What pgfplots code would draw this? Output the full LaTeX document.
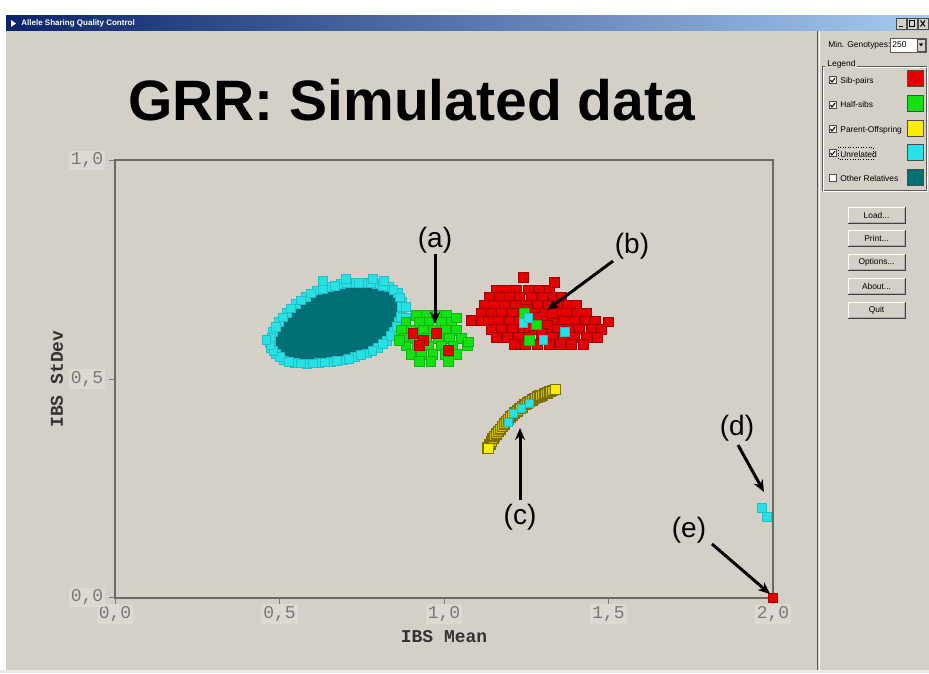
\documentclass[border=0pt]{standalone}
\usepackage{fontspec}
\setmainfont{Liberation Sans}
\setmonofont{Liberation Mono}
\usepackage{pgfplots}
\pgfplotsset{compat=1.18}
\usetikzlibrary{arrows.meta}

\definecolor{winbg}{RGB}{212,208,200}
\definecolor{sibred}{RGB}{228,0,0}
\definecolor{halfgreen}{RGB}{20,225,20}
\definecolor{poyellow}{RGB}{250,238,0}
\definecolor{pobody}{RGB}{205,188,0}
\definecolor{poolive}{RGB}{125,110,0}
\definecolor{unrcyan}{RGB}{40,225,230}
\definecolor{othteal}{RGB}{0,112,118}
\definecolor{titledark}{RGB}{10,36,106}
\definecolor{titlelight}{RGB}{166,202,240}
\definecolor{framegray}{RGB}{105,105,105}
\definecolor{ticklab}{RGB}{120,120,120}
\definecolor{labbox}{RGB}{220,217,211}

\newcommand{\uifont}{\fontsize{4.2}{5}\selectfont}
% a raised push button, top edge at screen row #1
\newcommand{\uibutton}[2]{%
  \fill[black!75] (848,#1) rectangle (906,#1+17);
  \fill[white] (848,#1) rectangle (905,#1+16);
  \fill[gray!65] (849,#1+1) rectangle (905,#1+16);
  \fill[winbg] (849,#1+1) rectangle (904,#1+15);
  \node[font=\uifont] at (876.5,#1+8.5) {#2};}

\begin{document}
\begin{tikzpicture}
% ---------- window chrome (1 unit = 1 screen pixel, y downwards) ----------
\begin{scope}[x=0.5pt,y=-0.5pt]
  \path[use as bounding box] (0,0) rectangle (929,673);
  \fill[white] (0,0) rectangle (929,673);
  \fill[winbg] (6,15) rectangle (929,670);
  \fill[winbg!45!white] (0,670) rectangle (929,673);
  % title bar
  \shade[left color=titledark, right color=titlelight] (6,16) rectangle (929,31);
  \fill[white] (11,20) -- (16,23.5) -- (11,27) -- cycle;
  \node[anchor=west, text=white, font=\bfseries\fontsize{4}{5}\selectfont, inner sep=0]
    at (21,23.5) {Allele Sharing Quality Control};
  \foreach \bx in {896,907,918} {
    \filldraw[fill=winbg, draw=gray!60!black, line width=0.3pt] (\bx,18) rectangle +(10,11);
  }
  \draw[line width=0.6pt] (899,26.5) -- (903,26.5);
  \draw[line width=0.4pt] (909.5,20.5) rectangle (914.5,26.5);
  \draw[line width=0.5pt] (920.5,20.5) -- (925,26.5) (925,20.5) -- (920.5,26.5);
  % side panel separator
  \draw[gray!65!black, line width=0.5pt] (817.5,31) -- (817.5,670);
  \draw[white, line width=0.5pt] (819,31) -- (819,670);
  % minimum genotypes box
  \node[anchor=west, font=\uifont, inner sep=0] at (828,45) {Min. Genotypes:};
  \filldraw[fill=white, draw=gray!70!black, line width=0.4pt] (890,38) rectangle (926,52);
  \node[anchor=west, font=\uifont, inner sep=0] at (892,45) {250};
  \filldraw[fill=winbg, draw=gray!60!black, line width=0.3pt] (917,39) rectangle (925,51);
  \fill[black] (919,43.5) -- (923,43.5) -- (921,46.5) -- cycle;
  % legend group box
  \draw[gray!70!black, line width=0.4pt] (822,66) rectangle (926,190);
  \draw[white, line width=0.4pt] (823,67) rectangle (927,191);
  \node[anchor=west, fill=winbg, font=\uifont, inner sep=1pt] at (825,64) {Legend};
  \foreach \cy in {80,105,129,153} {
    \filldraw[fill=white, draw=gray!60!black, line width=0.4pt] (829,\cy-3.5) rectangle (836,\cy+3.5);
    \draw[line width=0.5pt] (830.5,\cy) -- (832,\cy+2) -- (835,\cy-2);
  }
  \filldraw[fill=white, draw=gray!60!black, line width=0.4pt] (829,174.5) rectangle (836,181.5);
  \draw[densely dotted, line width=0.3pt] (838.5,147.5) rectangle (873,159.5);
  % buttons
  \uibutton{207}{Load...}
  \uibutton{230}{Print...}
  \uibutton{254}{Options...}
  \uibutton{278}{About...}
  \uibutton{302}{Quit}
  % chart title and axis titles
  \node[anchor=base, font=\bfseries\fontsize{28.5}{30}\selectfont, inner sep=0]
    at (411.5,121) {GRR: Simulated data};
  \node[font=\ttfamily\bfseries\fontsize{9}{9}\selectfont, text=black!80] at (444,637) {IBS Mean};
  \node[rotate=90, font=\ttfamily\bfseries\fontsize{9}{9}\selectfont, text=black!80] at (57,379) {IBS StDev};
\end{scope}

% ---------- scatter plot ----------
\begin{axis}[
  at={(57.5pt,-298.75pt)}, anchor=south west,
  scale only axis, width=329pt, height=218.5pt,
  xmin=0, xmax=2, ymin=0, ymax=1,
  clip=false,
  axis line style={draw=framegray, line width=1pt},
  xtick={0,0.5,1,1.5,2}, ytick={0,0.5,1},
  xtick pos=left, ytick pos=left,
  tick align=outside, major tick length=3pt,
  tick style={draw=ticklab, line width=0.5pt},
  xticklabel style={/pgf/number format/.cd, use comma, fixed, fixed zerofill, precision=1,
    assume math mode=true, /tikz/.cd,
    font=\ttfamily\fontsize{9}{9}\selectfont, text=ticklab, fill=labbox, inner sep=1pt,
    anchor=center, yshift=-5.25pt},
  yticklabel style={/pgf/number format/.cd, use comma, fixed, fixed zerofill, precision=1,
    assume math mode=true, /tikz/.cd,
    font=\ttfamily\fontsize{9}{9}\selectfont, text=ticklab, fill=labbox, inner sep=1pt,
    anchor=center, xshift=-11pt},
  legend plot pos=right,
  legend cell align=left,
  legend image code/.code={\draw[#1] (0pt,-2.5pt) rectangle (8pt,5.5pt);},
  legend style={at={(axis description cs:1.1018,1.2071)}, anchor=north west,
    draw=none, fill=none, font=\uifont, inner sep=0pt,
    row sep=3.9pt, column sep=2.5pt, nodes={inner sep=0pt}},
  cmark/.style={only marks, mark=square*, mark size=2.45pt, forget plot},
]
\addlegendimage{fill=sibred, draw=black!70, line width=0.4pt}
\addlegendentry{Sib-pairs}
\addlegendimage{fill=halfgreen, draw=black!70, line width=0.4pt}
\addlegendentry{Half-sibs}
\addlegendimage{fill=poyellow, draw=black!70, line width=0.4pt}
\addlegendentry{Parent-Offspring}
\addlegendimage{fill=unrcyan, draw=black!70, line width=0.4pt}
\addlegendentry{Unrelated}
\addlegendimage{fill=othteal, draw=black!70, line width=0.4pt}
\addlegendentry{Other Relatives}

% other relatives: dense core of the unrelated cloud
\addplot[fill=othteal, draw=othteal!90!black, forget plot] coordinates {
 (0.482,0.585) (0.491,0.610) (0.509,0.630) (0.534,0.649) (0.561,0.667) (0.588,0.681)
 (0.619,0.692) (0.652,0.699) (0.686,0.706) (0.720,0.708) (0.756,0.708) (0.790,0.706)
 (0.823,0.701) (0.848,0.690) (0.857,0.674) (0.857,0.651) (0.848,0.630) (0.835,0.610)
 (0.814,0.592) (0.790,0.578) (0.759,0.567) (0.726,0.561) (0.689,0.554) (0.655,0.549)
 (0.619,0.547) (0.585,0.545) (0.549,0.547) (0.521,0.554) (0.500,0.565) (0.485,0.576)
} -- cycle;

% unrelated pairs (rim of the cloud)
\addplot[cmark, mark size=2.2pt, mark options={fill=unrcyan, draw=unrcyan!85!black, line width=0.3pt}] coordinates {
 (0.470,0.582) (0.479,0.608) (0.497,0.631) (0.521,0.651) (0.549,0.672) (0.579,0.688)
 (0.613,0.703) (0.649,0.711) (0.686,0.717) (0.723,0.720) (0.759,0.720) (0.796,0.717)
 (0.832,0.711) (0.860,0.697) (0.872,0.676) (0.872,0.653) (0.863,0.631) (0.848,0.608)
 (0.826,0.588) (0.799,0.571) (0.765,0.559) (0.729,0.550) (0.692,0.543) (0.655,0.539)
 (0.619,0.537) (0.582,0.534) (0.546,0.537) (0.512,0.543) (0.488,0.557) (0.473,0.571)
 (0.475,0.595) (0.488,0.620) (0.509,0.641) (0.535,0.662) (0.564,0.680) (0.596,0.696)
 (0.631,0.707) (0.668,0.714) (0.705,0.719) (0.741,0.720) (0.778,0.719) (0.814,0.714)
 (0.846,0.704) (0.866,0.687) (0.872,0.665) (0.868,0.642) (0.856,0.620) (0.837,0.598)
 (0.813,0.580) (0.782,0.565) (0.747,0.555) (0.711,0.547) (0.674,0.541) (0.637,0.538)
 (0.601,0.536) (0.564,0.536) (0.529,0.540) (0.500,0.550) (0.481,0.564) (0.472,0.577)
 (0.631,0.724) (0.701,0.729) (0.784,0.729) (0.817,0.724) (0.460,0.589) (0.884,0.640)
 (0.884,0.665)
};

% half-sibs (a)
\addplot[cmark, mark options={fill=halfgreen, draw=halfgreen!80!black, line width=0.3pt}] coordinates {
 (0.915,0.645) (0.945,0.645) (0.979,0.645) (1.006,0.645)
 (0.884,0.630) (0.924,0.630) (0.954,0.630) (0.991,0.630) (1.021,0.630)
 (0.869,0.612) (0.899,0.612) (0.936,0.612) (0.966,0.612) (1.003,0.612) (1.037,0.612)
 (0.878,0.594) (0.909,0.594) (0.945,0.594) (0.982,0.594) (1.015,0.594) (1.052,0.594)
 (0.884,0.576) (0.918,0.576) (0.954,0.576) (0.991,0.576) (1.027,0.576)
 (0.899,0.557) (0.930,0.557) (0.966,0.557) (1.003,0.557) (1.037,0.557)
 (0.924,0.541) (0.960,0.541) (1.012,0.541)
 (1.070,0.578) (0.863,0.589) (1.037,0.640) (1.073,0.585)
};
% sib-pairs falling among the half-sibs
\addplot[cmark, mark options={fill=sibred, draw=sibred!75!black, line width=0.3pt}] coordinates {
 (0.905,0.605) (0.936,0.589) (0.976,0.605) (1.012,0.566) (0.924,0.578)
};

% sib-pairs (b)
\addplot[cmark, mark options={fill=sibred, draw=sibred!70!black, line width=0.3pt}] coordinates {
 (1.159,0.704) (1.189,0.704) (1.220,0.704) (1.256,0.704) (1.290,0.704) (1.320,0.704)
 (1.137,0.688) (1.168,0.688) (1.198,0.688) (1.229,0.688) (1.265,0.688) (1.299,0.688)
 (1.332,0.688) (1.357,0.688)
 (1.122,0.669) (1.152,0.669) (1.183,0.669) (1.216,0.669) (1.250,0.669) (1.284,0.669)
 (1.317,0.669) (1.348,0.669) (1.375,0.669) (1.402,0.669)
 (1.113,0.651) (1.143,0.651) (1.174,0.651) (1.207,0.651) (1.241,0.651) (1.274,0.651)
 (1.308,0.651) (1.341,0.651) (1.372,0.651) (1.405,0.651) (1.433,0.651)
 (1.104,0.633) (1.134,0.633) (1.165,0.633) (1.198,0.633) (1.229,0.633) (1.265,0.633)
 (1.299,0.633) (1.332,0.633) (1.366,0.633) (1.396,0.633) (1.430,0.633) (1.460,0.633)
 (1.143,0.614) (1.174,0.614) (1.207,0.614) (1.241,0.614) (1.274,0.614) (1.311,0.614)
 (1.345,0.614) (1.378,0.614) (1.412,0.614) (1.448,0.614) (1.479,0.614)
 (1.159,0.596) (1.192,0.596) (1.226,0.596) (1.259,0.596) (1.296,0.596) (1.329,0.596)
 (1.363,0.596) (1.396,0.596) (1.433,0.596) (1.466,0.596)
 (1.213,0.580) (1.247,0.580) (1.284,0.580) (1.320,0.580) (1.354,0.580) (1.387,0.580)
 (1.424,0.580)
 (1.241,0.733) (1.500,0.631) (1.082,0.635) (1.335,0.722)
 (1.245,0.660) (1.280,0.642) (1.315,0.624) (1.260,0.622) (1.295,0.605) (1.330,0.650)
};
% half-sibs and unrelated pairs inside the sib-pair cluster
\addplot[cmark, mark options={fill=halfgreen, draw=halfgreen!80!black, line width=0.3pt}] coordinates {
 (1.244,0.651) (1.280,0.624) (1.259,0.589)
};
\addplot[cmark, mark size=2.2pt, mark options={fill=unrcyan, draw=unrcyan!85!black, line width=0.3pt}] coordinates {
 (1.241,0.628) (1.256,0.640) (1.366,0.608) (1.302,0.589)
};

% parent-offspring (c)
\addplot[cmark, mark options={fill=pobody, draw=poolive, line width=0.7pt}] coordinates {
 (1.134,0.342) (1.140,0.351) (1.145,0.357) (1.149,0.363) (1.154,0.369) (1.159,0.374)
 (1.165,0.380) (1.171,0.385) (1.177,0.391) (1.183,0.397) (1.189,0.403) (1.195,0.408)
 (1.201,0.413) (1.207,0.417) (1.215,0.422) (1.223,0.427) (1.231,0.432) (1.238,0.436)
 (1.246,0.441) (1.253,0.445) (1.261,0.449) (1.268,0.452) (1.276,0.456) (1.284,0.459)
 (1.292,0.461) (1.299,0.463) (1.307,0.466) (1.314,0.468) (1.322,0.471) (1.329,0.473)
 (1.340,0.476)
};
\addplot[cmark, mark size=2.0pt, mark options={fill=poyellow, draw=poyellow}] coordinates {
 (1.134,0.342) (1.340,0.476)
};
\addplot[cmark, mark size=2.0pt, mark options={fill=unrcyan, draw=unrcyan!85!black, line width=0.3pt}] coordinates {
 (1.195,0.402) (1.210,0.422) (1.235,0.434) (1.259,0.445)
};

% unrelated pairs near IBS mean 2 (d)
\addplot[cmark, mark size=2.2pt, mark options={fill=unrcyan, draw=unrcyan!85!black, line width=0.3pt}] coordinates {
 (1.966,0.205) (1.982,0.184)
};
% duplicate sample (e)
\addplot[cmark, mark size=2.2pt, mark options={fill=sibred, draw=sibred!75!black, line width=0.3pt}] coordinates {
 (2.0,0.0)
};
\end{axis}

% ---------- annotations ----------
\begin{scope}[x=0.5pt,y=-0.5pt, font=\fontsize{14}{15}\selectfont]
  \tikzset{ann/.style={line width=1.5pt, -{Stealth[length=6pt,width=5pt]}}}
  \node at (435,240) {(a)};
  \draw[ann] (435,254) -- (435,324);
  \node at (632,246) {(b)};
  \draw[ann] (613,261) -- (547,310);
  \node at (520,517) {(c)};
  \draw[ann] (520,500) -- (520,428);
  \node at (737,428) {(d)};
  \draw[ann] (738,445) -- (764,492);
  \node at (689,530) {(e)};
  \draw[ann] (712,544) -- (770,594);
\end{scope}
\end{tikzpicture}
\end{document}
